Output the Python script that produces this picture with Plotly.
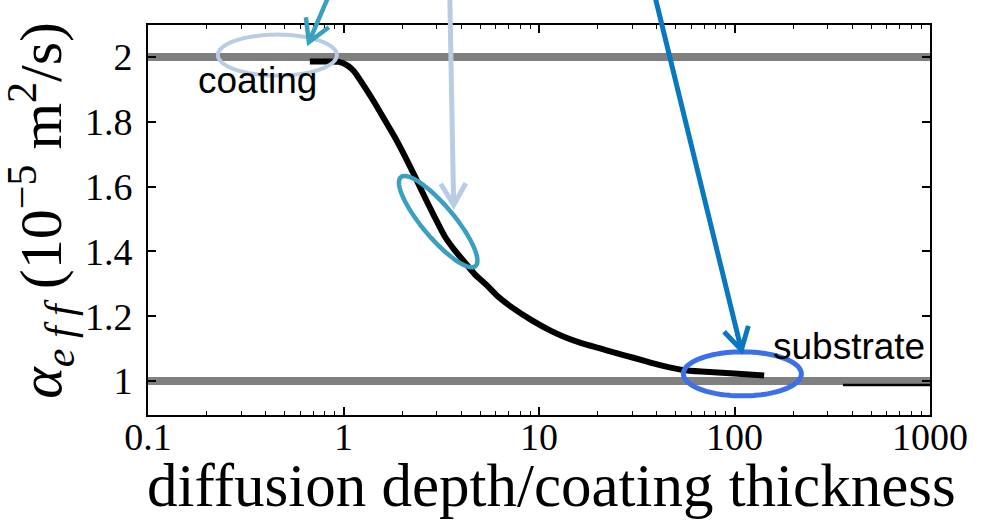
import numpy as np
import plotly.graph_objects as go

# Effective diffusivity (units of 1e-5 m^2/s) against diffusion depth / coating thickness
depth_ratio = [0.673, 0.822, 0.946, 1.040, 1.129, 1.285, 1.445, 1.625, 1.828, 2.056,
               2.312, 2.602, 2.926, 3.292, 3.701, 4.164, 4.684, 5.395, 6.213, 7.237,
               9.155, 11.58, 13.50, 16.48, 20.14, 24.88, 30.74, 37.54, 45.86, 54.70,
               67.61, 99.6, 141.8]
alpha_eff = [1.986, 1.986, 1.985, 1.975, 1.957, 1.907, 1.858, 1.806, 1.753, 1.695,
             1.633, 1.568, 1.506, 1.447, 1.404, 1.367, 1.330, 1.296, 1.259, 1.228,
             1.188, 1.154, 1.136, 1.117, 1.102, 1.086, 1.071, 1.056, 1.043, 1.034,
             1.029, 1.023, 1.017]

# deep tail of the profile
tail_ratio = [359, 1000]
tail_alpha = [0.988, 0.988]

# bulk values of the two materials
coating_alpha = 2.0
substrate_alpha = 1.0
x_span = [0.1, 1000]

xtick_vals = [0.1, 1, 10, 100, 1000]
xtick_text = ["0.1", "1", "10", "100", "1000"]
ytick_vals = [1, 1.2, 1.4, 1.6, 1.8, 2]
ytick_text = ["1", "1.2", "1.4", "1.6", "1.8", "2"]
minor_vals = [k * 10.0 ** d for d in range(-1, 3) for k in range(2, 10)]

X_RANGE = [-1.0, 3.0]          # log10 units
Y_RANGE = [0.895, 2.099]

# callout positions (data units)
coating_mark = dict(x=0.459, y=2.006)
interface_mark = dict(x=3.05, y=1.492)
substrate_mark = dict(x=109.7, y=1.022)
arrow_tips = [dict(x=0.665, y=2.046), dict(x=3.66, y=1.543), dict(x=108.4, y=1.096)]

C_LIGHT = "#B8CCE4"
C_TEAL = "#3AA0BF"
C_BLUE = "#0A78C0"
C_ROYAL = "#3D6FE8"
GREY = "#808080"


def to_paper(xv, yv):
    xp = (np.log10(xv) - X_RANGE[0]) / (X_RANGE[1] - X_RANGE[0])
    yp = (yv - Y_RANGE[0]) / (Y_RANGE[1] - Y_RANGE[0])
    return float(xp), float(yp)


def ellipse_path(a, b, angle_deg=0.0, n=96):
    t = np.linspace(0, 2 * np.pi, n, endpoint=False)
    c, s = np.cos(np.radians(angle_deg)), np.sin(np.radians(angle_deg))
    xs = a * np.cos(t) * c - b * np.sin(t) * s
    ys = a * np.cos(t) * s + b * np.sin(t) * c
    return "M " + " L ".join(f"{x:.2f},{y:.2f}" for x, y in zip(xs, ys)) + " Z"


def arrow_path(dx, dy, head=25, spread=30):
    """Shaft from (dx, dy) to the tip at (0, 0) with an open V head (pixels, y up)."""
    ang = np.arctan2(dy, dx)
    arms = [(head * np.cos(ang + s * np.radians(spread)),
             head * np.sin(ang + s * np.radians(spread))) for s in (-1, 1)]
    return (f"M {dx:.2f},{dy:.2f} L 0,0 "
            f"M {arms[0][0]:.2f},{arms[0][1]:.2f} L 0,0 L {arms[1][0]:.2f},{arms[1][1]:.2f}")


fig = go.Figure()

for level in (coating_alpha, substrate_alpha):
    fig.add_trace(go.Scatter(x=x_span, y=[level, level], mode="lines",
                             line=dict(color=GREY, width=8), hoverinfo="skip",
                             showlegend=False))

fig.add_trace(go.Scatter(x=depth_ratio, y=alpha_eff, mode="lines",
                         line=dict(color="black", width=6, shape="spline", smoothing=0.5),
                         showlegend=False))
fig.add_trace(go.Scatter(x=tail_ratio, y=tail_alpha, mode="lines",
                         line=dict(color="black", width=2.5), showlegend=False))

shapes = []
# highlight ellipses (pixel-sized, anchored in data space)
for mark, a, b, ang, col, w in [
    (coating_mark, 59.5, 20.5, 0, C_LIGHT, 4),
    (interface_mark, 58, 16, -50, C_TEAL, 4.5),
    (substrate_mark, 59, 22, 0, C_ROYAL, 5),
]:
    shapes.append(dict(type="path", xref="x", yref="y", xsizemode="pixel",
                       ysizemode="pixel", xanchor=mark["x"], yanchor=mark["y"],
                       path=ellipse_path(a, b, ang), line=dict(color=col, width=w)))

# pointer arrows coming in from above the frame
for tip, (dx, dy), col, w in [
    (arrow_tips[0], (21, 49), C_TEAL, 4.5),
    (arrow_tips[1], (-4, 215), C_LIGHT, 5),
    (arrow_tips[2], (-87, 356), C_BLUE, 5),
]:
    px, py = to_paper(tip["x"], tip["y"])
    shapes.append(dict(type="path", xref="paper", yref="paper", xsizemode="pixel",
                       ysizemode="pixel", xanchor=px, yanchor=py,
                       path=arrow_path(dx, dy), line=dict(color=col, width=w)))

label_font = dict(family="Liberation Sans, Arial, sans-serif", size=37, color="black")
title_font = dict(family="Liberation Serif, Times New Roman, serif", size=61, color="black")

annotations = [
    dict(x=np.log10(0.365), y=1.929, xref="x", yref="y", text="coating",
         showarrow=False, font=label_font, xanchor="center", yanchor="middle"),
    dict(x=np.log10(383), y=1.108, xref="x", yref="y", text="substrate",
         showarrow=False, font=label_font, xanchor="center", yanchor="middle"),
    dict(x=0.5166, y=-0.18, xref="paper", yref="paper", xanchor="center", yanchor="middle",
         text="diffusion depth/coating thickness", showarrow=False, font=title_font),
    dict(x=-0.137, y=0.526, xref="paper", yref="paper", textangle=-90,
         xanchor="center", yanchor="middle",
         text="<i>α</i><sub><i>e f f</i></sub> (10<sup>−5</sup> m<sup>2</sup>/s)",
         showarrow=False, font=dict(title_font, size=60)),
]

tick_font = dict(family="Liberation Serif, Times New Roman, serif", size=38, color="black")

fig.update_layout(
    width=981, height=527,
    margin=dict(l=148, r=51, t=25, b=112, pad=0),
    paper_bgcolor="white", plot_bgcolor="white",
    shapes=shapes, annotations=annotations,
    xaxis=dict(type="log", range=X_RANGE, tickmode="array", tickvals=xtick_vals,
               ticktext=xtick_text, ticks="inside", ticklen=8, tickwidth=1.5,
               tickcolor="black", showline=True, linecolor="black", linewidth=2,
               mirror="ticks", showgrid=False, zeroline=False, tickfont=tick_font,
               ticklabelstandoff=-13,
               minor=dict(tickmode="array", tickvals=minor_vals, ticks="inside",
                          ticklen=4, tickwidth=1.2, tickcolor="black", showgrid=False)),
    yaxis=dict(range=Y_RANGE, tickmode="array", tickvals=ytick_vals, ticktext=ytick_text,
               ticks="inside", ticklen=8, tickwidth=1.5, tickcolor="black",
               showline=True, linecolor="black", linewidth=2, mirror="ticks",
               showgrid=False, zeroline=False, tickfont=tick_font, ticklabelstandoff=6),
)

fig.write_html("out.html")
